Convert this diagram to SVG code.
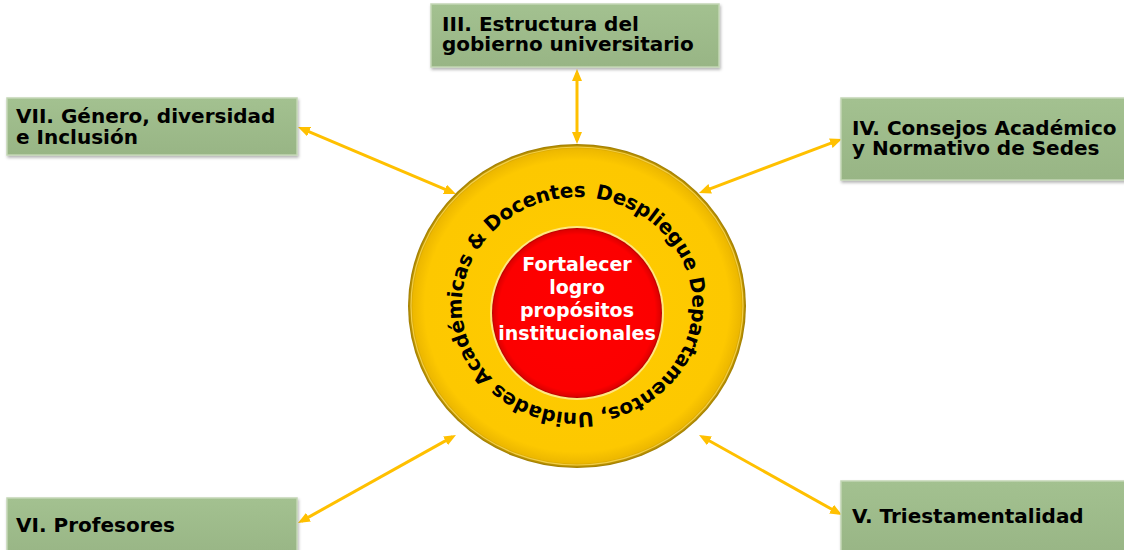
<svg xmlns="http://www.w3.org/2000/svg" width="1124" height="550" viewBox="0 0 1124 550">
<defs>
<style>
.box{fill:url(#gbox);stroke:#C3D6B5;stroke-width:1.5;filter:url(#sh)}
.bt{font-family:"DejaVu Sans","Verdana",sans-serif;font-weight:bold;font-size:20px;fill:#000}
.conn{stroke:#FFC000;stroke-width:3;fill:none;marker-start:url(#ah);marker-end:url(#ah)}
.ct{font-family:"DejaVu Sans","Verdana",sans-serif;font-weight:bold;font-size:19px;fill:#fff;text-anchor:middle}
.rt{font-family:"DejaVu Sans","Verdana",sans-serif;font-weight:bold;font-size:20px;fill:#000}
</style>
<linearGradient id="gbox" x1="0" y1="0" x2="0" y2="1">
<stop offset="0" stop-color="#A3C190"/>
<stop offset="1" stop-color="#98B585"/>
</linearGradient>
<radialGradient id="gy" cx="0.5" cy="0.5" r="0.5">
<stop offset="0" stop-color="#FFCC00"/>
<stop offset="0.9" stop-color="#FDC800"/>
<stop offset="0.97" stop-color="#EDB800"/>
<stop offset="1" stop-color="#9C7A00"/>
</radialGradient>
<radialGradient id="gr" cx="0.5" cy="0.5" r="0.5">
<stop offset="0" stop-color="#FF0000"/>
<stop offset="0.92" stop-color="#FC0000"/>
<stop offset="0.98" stop-color="#E00000"/>
<stop offset="1" stop-color="#B00000"/>
</radialGradient>
<filter id="sh" x="-10%" y="-10%" width="120%" height="130%">
<feDropShadow dx="1" dy="2" stdDeviation="1.5" flood-color="#000" flood-opacity="0.3"/>
</filter>
<marker id="ah" viewBox="0 0 12 10" refX="8" refY="5" markerWidth="12" markerHeight="10" markerUnits="userSpaceOnUse" orient="auto-start-reverse">
<path d="M0,0 L12,5 L0,10 z" fill="#FFC000"/>
</marker>
<path id="ring" d="M589.2,197.6 A117,108 0 0,1 564.8,412.4 A117,108 0 0,1 589.2,197.6"/>
</defs>
<rect width="1124" height="550" fill="#fff"/>
<g id="connectors">
<line class="conn" x1="577" y1="73" x2="577" y2="140"/>
<line class="conn" x1="301.7" y1="128.6" x2="452.3" y2="192.4"/>
<line class="conn" x1="838.3" y1="140.4" x2="702.7" y2="191.6"/>
<line class="conn" x1="301.5" y1="521.1" x2="452.5" y2="436.9"/>
<line class="conn" x1="702.5" y1="437" x2="838.5" y2="513"/>
</g>
<g id="node-center">
<ellipse cx="577" cy="306" rx="169" ry="162" fill="url(#gy)"/>
<ellipse cx="577" cy="306" rx="166" ry="159" fill="none" stroke="#FFE066" stroke-width="1.2" opacity="0.7"/>
<circle cx="577" cy="313" r="87" fill="#FFE680"/>
<circle cx="577" cy="313" r="85" fill="url(#gr)"/>
<text class="rt"><textPath href="#ring" startOffset="6" textLength="690" lengthAdjust="spacing">Despliegue Departamentos, Unidades Académicas &amp; Docentes</textPath></text>
<text class="ct" x="577" y="271">Fortalecer</text>
<text class="ct" x="577" y="294">logro</text>
<text class="ct" x="577" y="317">propósitos</text>
<text class="ct" x="577" y="340">institucionales</text>
</g>
<g id="node-III">
<rect class="box" x="431" y="4" width="288" height="63"/>
<text class="bt" x="442" y="31">III. Estructura del</text>
<text class="bt" x="442" y="51">gobierno universitario</text>
</g>
<g id="node-VII">
<rect class="box" x="7" y="98" width="290" height="57"/>
<text class="bt" x="16" y="123">VII. Género, diversidad</text>
<text class="bt" x="16" y="144">e Inclusión</text>
</g>
<g id="node-IV">
<rect class="box" x="841" y="98" width="290" height="82"/>
<text class="bt" x="852" y="135">IV. Consejos Académico</text>
<text class="bt" x="852" y="155">y Normativo de Sedes</text>
</g>
<g id="node-VI">
<rect class="box" x="7" y="498" width="290" height="60"/>
<text class="bt" x="16" y="532">VI. Profesores</text>
</g>
<g id="node-V">
<rect class="box" x="841" y="481" width="290" height="75"/>
<text class="bt" x="852" y="523">V. Triestamentalidad</text>
</g>
</svg>
